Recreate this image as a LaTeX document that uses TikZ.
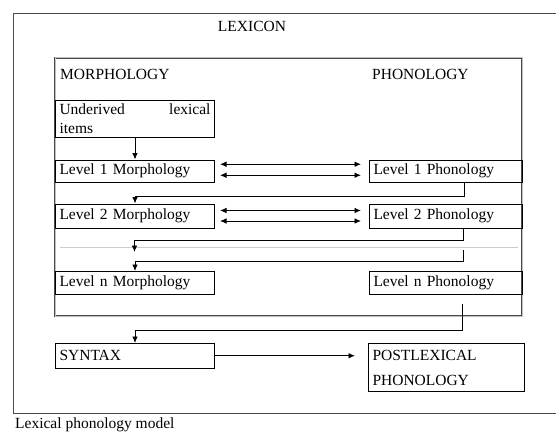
\documentclass[tikz,border=0pt]{standalone}
\usepackage{fontspec}
\setmainfont{Liberation Serif}
\usetikzlibrary{arrows.meta}
\definecolor{framegrey}{HTML}{4A4A4A}
\definecolor{rulegrey}{HTML}{CCCCCC}

\begin{document}
\begin{tikzpicture}[x=1pt, y=-1pt,
    font=\fontsize{15.5}{19}\selectfont,
    box/.style={draw, line width=1pt, anchor=north west, inner xsep=4pt, inner ysep=0pt, align=left},
    mbox/.style={box, text width=151pt},
    pbox/.style={box, text width=145pt},
    lbl/.style={inner sep=0pt, anchor=base west},
    arr/.style={-{Latex[length=6.5pt,width=5.5pt]}, line width=0.9pt},
    dbl/.style={{Latex[length=6.5pt,width=5.5pt]}-{Latex[length=6.5pt,width=5.5pt]}, line width=0.9pt, shorten <=5pt, shorten >=8pt}]
    \useasboundingbox (0,0) rectangle (556,433);

    % Lexicon frame and the inner morphology/phonology frame
    \draw[framegrey, line width=0.9pt] (13.3,13) rectangle (580,413);
    \draw[framegrey, line width=0.8pt, double=black!25, double distance=1pt] (55,58) rectangle (522,316);
    \node[inner sep=0pt, anchor=base] (lexicon) at (252,32) {LEXICON};
    \node[lbl] (morph) at (60,80) {MORPHOLOGY};
    \node[lbl] (phon) at (372,80) {PHONOLOGY};

    \node[mbox, minimum height=37pt] (under) at (55,100) {\makebox[151pt]{Underived\hfill lexical}\\items};
    \node[mbox, minimum height=22.5pt] (m1) at (55,159.5) {Level 1 Morphology};
    \node[pbox, minimum height=22.5pt] (p1) at (369,159.5) {Level 1 Phonology};
    \node[mbox, minimum height=24pt] (m2) at (55,203.5) {Level 2 Morphology};
    \node[pbox, minimum height=24pt] (p2) at (369,203.5) {Level 2 Phonology};
    \node[mbox, minimum height=22.5pt] (mn) at (55,271) {Level n Morphology};
    \node[pbox, minimum height=22.5pt] (pn) at (369,271) {Level n Phonology};
    \node[mbox, minimum height=24.5pt] (syn) at (55,343) {SYNTAX};
    \node[box, text width=148pt, minimum height=48pt] (post) at (368,343) {POSTLEXICAL\\[6pt]PHONOLOGY};

    \draw[rulegrey, line width=0.6pt] (60,247.3) -- (518,247.3);
    \coordinate (gapin) at (134.5,252);
    \coordinate (gapout) at (463,250);
    \coordinate (nout) at (462,304);

    \draw[arr] (under) -- (m1);
    \draw[dbl] ([yshift=7pt]m1.east) -- ([yshift=7pt]p1.west);
    \draw[dbl] ([yshift=-4pt]m1.east) -- ([yshift=-4pt]p1.west);
    \draw[arr] ([xshift=18.5pt]p1.south) |- ([yshift=6.8pt]m2.north) -- (m2.north);
    \draw[dbl] ([yshift=5.5pt]m2.east) -- ([yshift=5.5pt]p2.west);
    \draw[dbl] ([yshift=-5pt]m2.east) -- ([yshift=-5pt]p2.west);
    \draw[arr] ([xshift=17.5pt]p2.south) |- ([yshift=12pt]gapin) -- (gapin);
    \draw[arr] (gapout) |- ([yshift=9.5pt]mn.north) -- (mn.north);
    \draw[arr] (nout) |- ([yshift=13pt]syn.north) -- (syn.north);
    \draw[arr, shorten >=13pt] (syn.east) -- (syn.east -| post.west);

    \node[lbl] (caption) at (15,428) {Lexical phonology model};
\end{tikzpicture}
\end{document}
